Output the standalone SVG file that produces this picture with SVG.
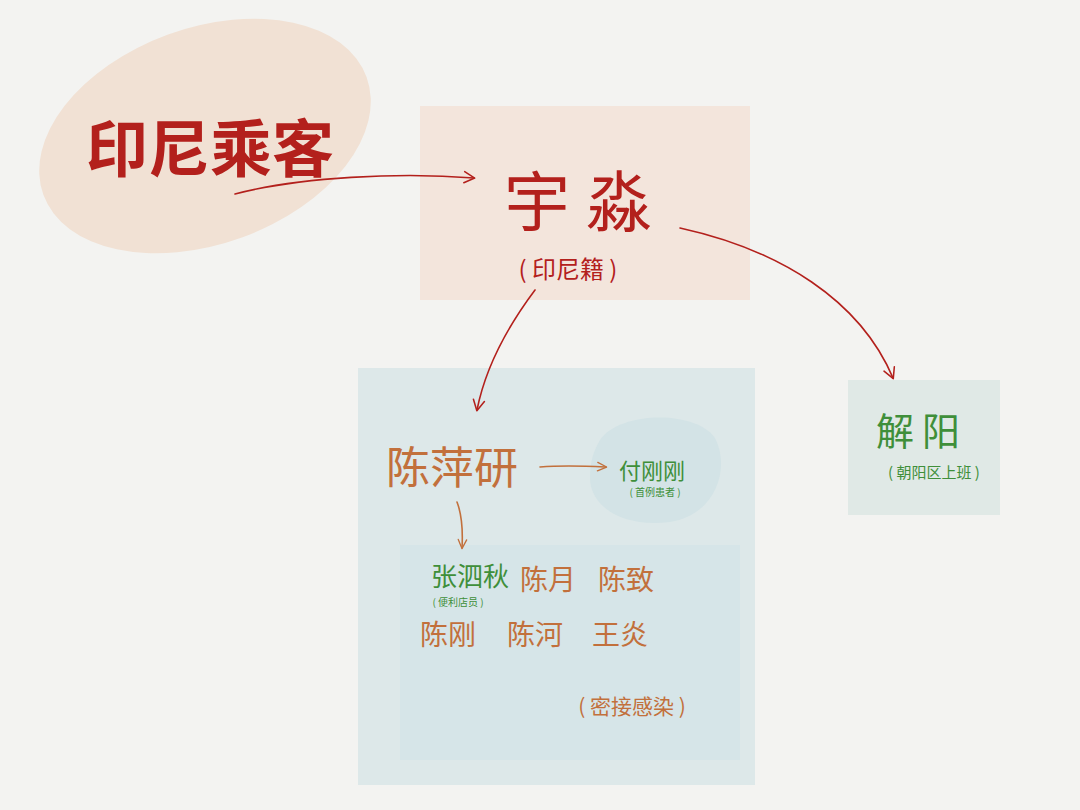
<svg xmlns="http://www.w3.org/2000/svg" width="1080" height="810" viewBox="0 0 1080 810">
<style>
.t{font-family:"Noto Sans CJK SC","Noto Sans",sans-serif}
.red{fill:#b3201c}
.org{fill:#c2703c}
.grn{fill:#3f8f3a}
.cr{fill:none;stroke:#b3201c;stroke-width:1.6;stroke-linecap:round}
.co{fill:none;stroke:#c2703c;stroke-width:1.6;stroke-linecap:round}
</style>
<defs>
<marker id="ar" viewBox="0 0 20 20" refX="16" refY="10" markerWidth="14" markerHeight="14" markerUnits="userSpaceOnUse" orient="auto">
<path d="M2 2 L17 10 L2 18" fill="none" stroke="#b3201c" stroke-width="2.2" stroke-linecap="round" stroke-linejoin="round"/>
</marker>
<marker id="ao" viewBox="0 0 20 20" refX="16" refY="10" markerWidth="12" markerHeight="12" markerUnits="userSpaceOnUse" orient="auto">
<path d="M2 3 L17 10 L2 17" fill="none" stroke="#c2703c" stroke-width="2.2" stroke-linecap="round" stroke-linejoin="round"/>
</marker>
</defs>
<rect width="1080" height="810" fill="#f3f3f1"/>
<g id="node-passenger">
<ellipse cx="205" cy="136" rx="172" ry="108" transform="rotate(-20 205 136)" fill="#f1e1d4"/>
<text class="t red" x="210" y="172" font-size="62" text-anchor="middle" font-weight="bold">印尼乘客</text>
</g>
<g id="node-yumiao">
<rect x="420" y="106" width="330" height="194" fill="#f3e5dc"/>
<text class="t red" x="586" y="226" font-size="66" text-anchor="middle" letter-spacing="16">宇淼</text>
<text class="t red" x="568" y="278" font-size="24" text-anchor="middle">( 印尼籍 )</text>
</g>
<g id="node-bigbox">
<rect x="358" y="368" width="397" height="417" fill="#dde8e9"/>
</g>
<g id="node-chenpingyan">
<text class="t org" x="452" y="484" font-size="44" text-anchor="middle">陈萍研</text>
</g>
<g id="node-fugang">
<path d="M600 440 C620 410 700 410 716 440 C730 470 715 515 670 522 C620 528 590 505 590 478 C590 462 593 452 600 440 Z" fill="#d3e3e6"/>
<text class="t grn" x="652" y="479" font-size="22" text-anchor="middle">付刚刚</text>
<text class="t grn" x="655" y="496" font-size="10" text-anchor="middle">( 首例患者 )</text>
</g>
<g id="node-contacts">
<rect x="400" y="545" width="340" height="215" fill="#d6e5e8"/>
<text class="t grn" x="470" y="586" font-size="26" text-anchor="middle">张泗秋</text>
<text class="t grn" x="458" y="606" font-size="10" text-anchor="middle">( 便利店员 )</text>
<text class="t org" x="548" y="590" font-size="28" text-anchor="middle">陈月</text>
<text class="t org" x="626" y="590" font-size="28" text-anchor="middle">陈致</text>
<text class="t org" x="448" y="645" font-size="28" text-anchor="middle">陈刚</text>
<text class="t org" x="535" y="645" font-size="28" text-anchor="middle">陈河</text>
<text class="t org" x="620" y="645" font-size="28" text-anchor="middle">王炎</text>
<text class="t org" x="632" y="714" font-size="21" text-anchor="middle">( 密接感染 )</text>
</g>
<g id="node-xieyang">
<rect x="848" y="380" width="152" height="135" fill="#e0e9e6"/>
<text class="t grn" x="922" y="445" font-size="38" text-anchor="middle" letter-spacing="8">解阳</text>
<text class="t grn" x="934" y="478" font-size="15" text-anchor="middle">( 朝阳区上班 )</text>
</g>
<g id="connectors">
<path class="cr" d="M235 194 C300 177 400 172 474 178" stroke-width="2.4" marker-end="url(#ar)"/>
<path class="cr" d="M535 290 C505 330 485 370 477 410" marker-end="url(#ar)"/>
<path class="cr" d="M680 228 C780 250 860 300 893 378" marker-end="url(#ar)"/>
<path class="co" d="M540 467 C565 465 585 466 606 467" marker-end="url(#ao)"/>
<path class="co" d="M457 502 C462 515 463 530 462 548" marker-end="url(#ao)"/>
</g>
</svg>
